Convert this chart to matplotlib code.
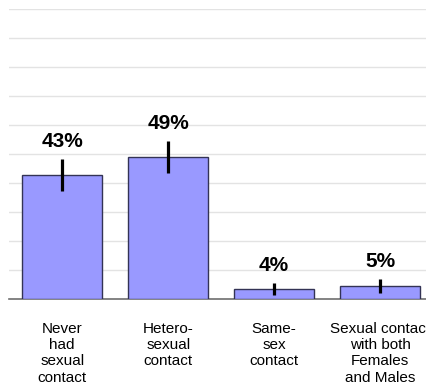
import matplotlib
matplotlib.use("Agg")
import matplotlib.pyplot as plt
import numpy as np

# chart values (percent)
categories = ["Never\nhad\nsexual\ncontact", "Hetero-\nsexual\ncontact",
              "Same-\nsex\ncontact", "Sexual contact\nwith both\nFemales\nand Males"]
values = [43, 49, 3.7, 4.5]
value_labels = ["43%", "49%", "4%", "5%"]
err_low = [37.3, 43.4, 1.5, 2.1]
err_high = [48.4, 54.6, 5.6, 7.0]

plt.rcParams['font.family'] = ['Liberation Sans', 'DejaVu Sans']

fig = plt.figure(figsize=(4.27, 3.89), dpi=100)
ax = fig.add_axes([0.0215, 0.2306, 0.993, 0.7454])

x = np.arange(len(values))
ax.bar(x, values, width=0.755, color="#9999ff", edgecolor="#333355",
       linewidth=1.0, zorder=3)

# error bars as plain vertical strokes
ax.vlines(x, err_low, err_high, color="black", linewidth=2.3, zorder=4)

for xi, top, lab in zip(x, err_high, value_labels):
    ax.annotate(lab, (xi, top), xytext=(0, 8.5), textcoords="offset points",
                ha="center", va="baseline", fontsize=15, fontweight="bold")

ax.set_ylim(0, 100)
ax.set_xlim(-0.5, 3.5)
ax.set_yticks(np.arange(10, 101, 10))
ax.yaxis.grid(True, color="#e3e3e3", linewidth=1.0, zorder=0)
ax.tick_params(left=False, bottom=False, labelleft=False, labelbottom=False)
for side in ["top", "right", "left"]:
    ax.spines[side].set_visible(False)
ax.spines["bottom"].set_color("#6e6e6e")
ax.spines["bottom"].set_linewidth(1.2)

for xi, cat in zip(x, categories):
    ax.annotate(cat, (xi, 0), xytext=(0, -16), textcoords="offset points",
                ha="center", va="top", fontsize=11, linespacing=1.22,
                annotation_clip=False)

fig.savefig("out.png", dpi=100)
